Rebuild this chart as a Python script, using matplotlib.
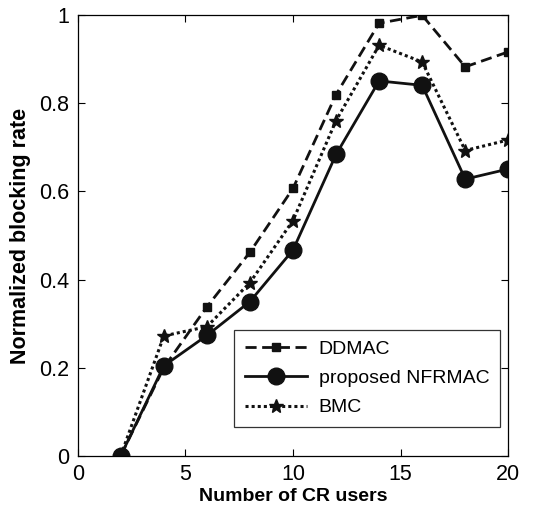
import matplotlib
matplotlib.use("Agg")
import matplotlib.pyplot as plt

plt.rcParams['font.family'] = ['Liberation Sans', 'DejaVu Sans']

x = [2, 4, 6, 8, 10, 12, 14, 16, 18, 20]
ddmac = [0.0, 0.20, 0.338, 0.462, 0.607, 0.82, 0.982, 1.0, 0.883, 0.917]
nfrmac = [0.0, 0.204, 0.273, 0.35, 0.467, 0.684, 0.851, 0.841, 0.628, 0.651]
bmc = [0.0, 0.272, 0.293, 0.393, 0.534, 0.761, 0.932, 0.894, 0.693, 0.717]
labels = ['DDMAC', 'proposed NFRMAC', 'BMC']

fig = plt.figure(figsize=(5.55, 5.13), dpi=100)
ax = fig.add_axes([77.7/555, 1 - 455.7/513, (508.3-77.7)/555, (455.7-15.3)/513])

ax.plot(x, ddmac, color='#111111', linestyle=(0, (4, 2)), linewidth=2, marker='s', markersize=6, label=labels[0])
ax.plot(x, nfrmac, color='#111111', linestyle='-', linewidth=2, marker='o', markersize=12, label=labels[1])
ax.plot(x, bmc, color='#111111', linestyle=(0, (1, 1)), linewidth=2.2, marker='*', markersize=10, label=labels[2])

ax.set_xlim(0, 20)
ax.set_ylim(0, 1)
ax.set_xticks([0, 5, 10, 15, 20])
ax.set_yticks([0, 0.2, 0.4, 0.6, 0.8, 1])
ax.set_yticklabels(['0', '0.2', '0.4', '0.6', '0.8', '1'])
ax.tick_params(direction='in', top=True, right=True, labelsize=15.5, length=5, width=0.8, pad=6)
for s in ax.spines.values():
    s.set_linewidth(0.9)
ax.set_xlabel('Number of CR users', fontsize=14, fontweight='bold', labelpad=2)
ax.set_ylabel('Normalized blocking rate', fontsize=15.5, fontweight='bold', labelpad=6)

leg = ax.legend(loc='lower right', bbox_to_anchor=(0.981, 0.065), borderaxespad=0, fontsize=14, frameon=True,
                fancybox=False, edgecolor='black', handlelength=3.2, borderpad=0.55, labelspacing=0.6,
                handletextpad=0.6)
leg.get_frame().set_linewidth(0.9)

fig.savefig('out.png', dpi=100)
